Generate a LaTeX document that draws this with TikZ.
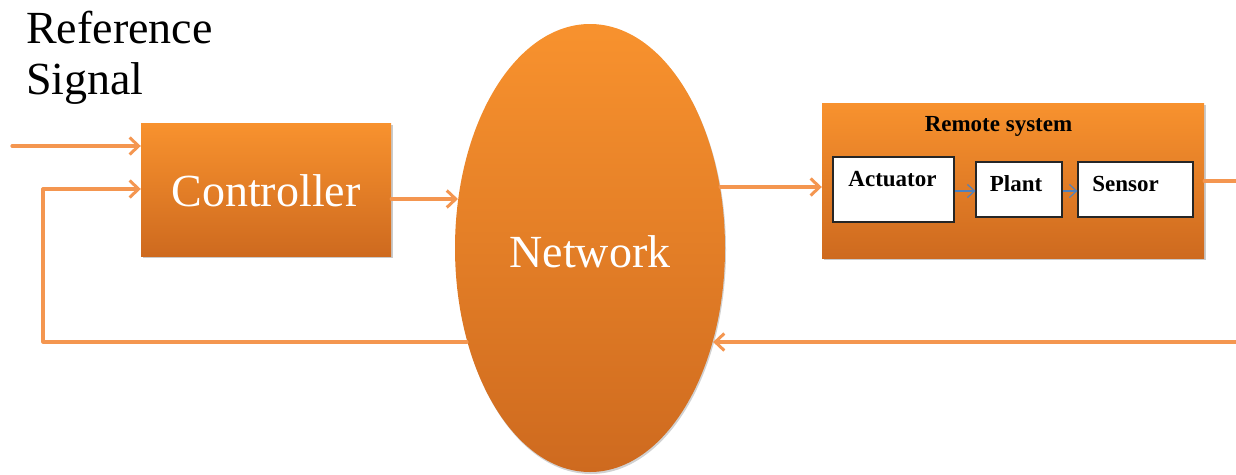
\documentclass[tikz,border=0pt]{standalone}
\usepackage{fontspec}
\setmainfont{Liberation Serif}
\usetikzlibrary{arrows.meta,shapes.geometric,shadows}
\definecolor{orTop}{RGB}{248,146,46}
\definecolor{orBot}{RGB}{206,106,31}
\definecolor{wire}{RGB}{244,150,80}
\definecolor{bluew}{RGB}{79,129,189}
\tikzset{
  obox/.style={rectangle, top color=orTop, bottom color=orBot, draw=none,
    drop shadow={shadow xshift=1.5pt, shadow yshift=-2pt, opacity=0.35, fill=black!60}},
  wbox/.style={rectangle, fill=white, draw=black!85, line width=1.3pt},
  wire/.style={draw=wire, line width=3.2pt, line cap=round, line join=round},
  warr/.style={wire, -{Straight Barb[length=9pt,width=17pt,line width=3pt]}},
  barr/.style={draw=bluew, line width=1.2pt, -{Straight Barb[length=7pt,width=13pt,line width=1.2pt]}},
  bigtxt/.style={font=\fontsize{46}{50}\selectfont, inner sep=0pt},
  smtxt/.style={font=\fontsize{23}{26}\selectfont\bfseries, inner sep=0pt},
}
\begin{document}
\begin{tikzpicture}[x=1pt,y=-1pt]
\useasboundingbox (0,0) rectangle (1236,474);
% Reference signal text
\node[bigtxt, anchor=base west] (ref1) at (26,43) {Reference};
\node[bigtxt, anchor=base west] (ref2) at (26,94) {Signal};
% Controller
\node[obox, minimum width=250pt, minimum height=133pt] (ctrl) at (266,189.5) {};
\node[bigtxt, text=white, anchor=base] (ctrltxt) at (266,206) {Controller};
% Network
\node[ellipse, top color=orTop, bottom color=orBot, draw=none, minimum width=270pt, minimum height=448pt, inner sep=0pt,
  drop shadow={shadow xshift=1pt, shadow yshift=-2pt, opacity=0.3, fill=black!60}] (net) at (590,248) {};
\node[bigtxt, text=white, anchor=base] (nettxt) at (590,267) {Network};
% Remote system
\node[obox, minimum width=382pt, minimum height=155pt] (remote) at (1013,180.5) {};
\node[smtxt, anchor=base] (remtxt) at (998.5,131) {Remote system};
\node[wbox, minimum width=121pt, minimum height=65pt] (act) at (893.5,189.5) {};
\node[wbox, minimum width=86pt, minimum height=55pt] (plant) at (1019,189.5) {};
\node[wbox, minimum width=115pt, minimum height=55pt] (sensor) at (1135.5,189.5) {};
\node[smtxt, anchor=base] (acttxt) at (892.5,186) {Actuator};
\node[smtxt, anchor=base] (planttxt) at (1016,191) {Plant};
\node[smtxt, anchor=base] (sensortxt) at (1125.5,191) {Sensor};
% blue arrows
\draw[barr] (act.east |- 0,191) -- (plant.west |- 0,191);
\draw[barr] (plant.east |- 0,191) -- (sensor.west |- 0,191);
% coordinates
\coordinate (in1) at (12,146);
\coordinate (fbL) at (43,342);
\coordinate (fbR) at (1246,342);
\coordinate (outR) at (1246,181);
% wires
\draw[warr] (in1) -- (ctrl.west |- in1);
\draw[warr] (net.217 |- fbL) -- (fbL) -- (fbL |- 0,189) -- (ctrl.west |- 0,189);
\draw[warr] (ctrl.east |- 0,199) -- (net.160 |- 0,199);
\draw[warr] (net.25 |- 0,187) -- (remote.west |- 0,187);
\draw[wire] (remote.east |- outR) -- (outR) -- (fbR);
\draw[warr] (fbR) -- (net.-37 |- fbR);
\end{tikzpicture}
\end{document}
